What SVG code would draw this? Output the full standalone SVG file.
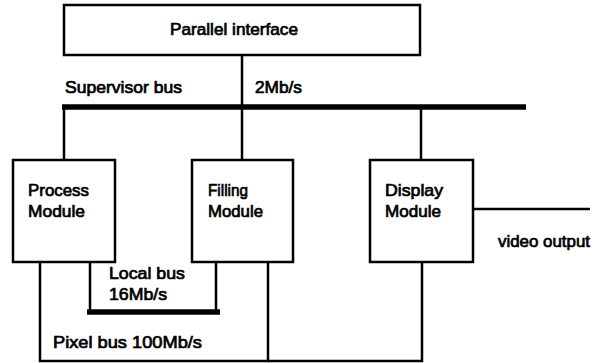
<svg xmlns="http://www.w3.org/2000/svg" width="597" height="363" viewBox="0 0 597 363">
<style>
.box{fill:#fff;stroke:#000;stroke-width:2.5}
.ln{stroke:#000;stroke-width:2.5;fill:none}
.bus{stroke:#000;stroke-width:5.5;fill:none}
text{font-family:"Liberation Sans",Arial,sans-serif;font-size:16.5px;fill:#000;stroke:#000;stroke-width:0.7}
</style>
<rect width="597" height="363" fill="#fff"/>
<g id="connectors">
<line class="ln" x1="242" y1="55" x2="242" y2="160"/>
<line class="bus" x1="62" y1="107" x2="526" y2="107"/>
<line class="ln" x1="64" y1="107" x2="64" y2="160"/>
<line class="ln" x1="421" y1="107" x2="421" y2="160"/>
<line class="ln" x1="473" y1="209" x2="590" y2="209"/>
<polyline class="ln" points="90,262 90,312 216,312 216,262"/>
<line class="bus" x1="87" y1="312" x2="220" y2="312"/>
<polyline class="ln" points="40,262 40,361 268,361 268,262"/>
<polyline class="ln" points="268,361 422,361 422,262"/>
</g>
<g id="parallel"><rect class="box" x="64" y="5" width="356" height="50"/><text x="170" y="35" textLength="128" lengthAdjust="spacingAndGlyphs">Parallel interface</text></g>
<text x="65" y="93" textLength="117" lengthAdjust="spacingAndGlyphs">Supervisor bus</text>
<text x="255" y="93" textLength="47" lengthAdjust="spacingAndGlyphs">2Mb/s</text>
<g id="process"><rect class="box" x="13" y="160" width="102" height="102"/><text x="28" y="196" textLength="61" lengthAdjust="spacingAndGlyphs">Process</text><text x="28" y="217" textLength="57" lengthAdjust="spacingAndGlyphs">Module</text></g>
<g id="filling"><rect class="box" x="192" y="160" width="101" height="102"/><text x="208" y="196" textLength="40" lengthAdjust="spacingAndGlyphs">Filling</text><text x="208" y="217" textLength="55" lengthAdjust="spacingAndGlyphs">Module</text></g>
<g id="display"><rect class="box" x="370" y="160" width="103" height="102"/><text x="385" y="196" textLength="58" lengthAdjust="spacingAndGlyphs">Display</text><text x="385" y="217" textLength="56" lengthAdjust="spacingAndGlyphs">Module</text></g>
<text x="498" y="247" textLength="92" lengthAdjust="spacingAndGlyphs">video output</text>
<text x="109" y="279" textLength="76" lengthAdjust="spacingAndGlyphs">Local bus</text>
<text x="109" y="300" textLength="58" lengthAdjust="spacingAndGlyphs">16Mb/s</text>
<text x="53" y="348" textLength="149" lengthAdjust="spacingAndGlyphs">Pixel bus 100Mb/s</text>
</svg>
